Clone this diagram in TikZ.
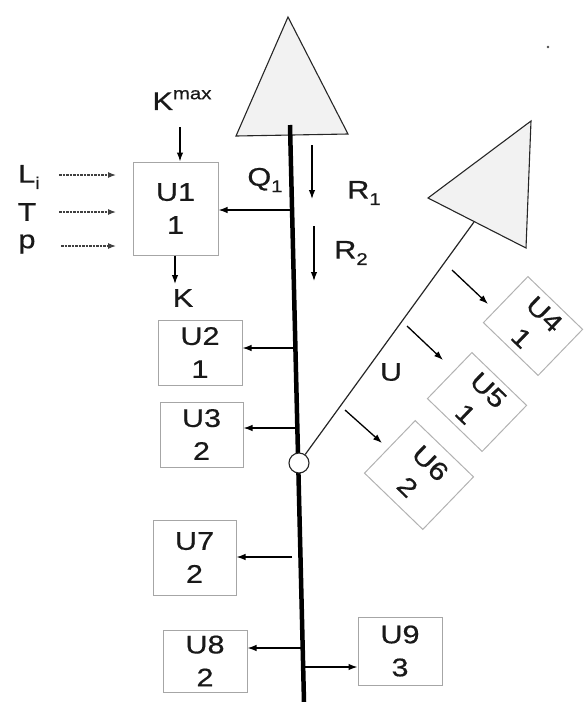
\documentclass[tikz,border=0pt]{standalone}
\usepackage{fontspec}
\setmainfont{Liberation Sans}[FakeStretch=1.2, FakeBold=0.6]
\usetikzlibrary{arrows.meta}
\begin{document}
\begin{tikzpicture}[x=1pt,y=-1pt,
  lbl/.style={font=\fontsize{25.5}{28}\selectfont, text=black!90, inner sep=0pt},
  box/.style={draw=gray!70, line width=1pt, align=center, inner sep=0pt,
    font=\fontsize{25.5}{33}\selectfont, text=black!90},
  rbox/.style={box, draw=gray!60},
  arr/.style={line width=1.3pt, -{Latex[length=9pt,width=6.5pt]}},
  darr/.style={line width=1.1pt, dash pattern=on 2.5pt off 1pt, black!75, -{Latex[length=8pt,width=6pt]}},
  tri/.style={draw=black!85, line width=1.1pt, fill=gray!10, line join=miter},
  mainline/.style={line width=4.5pt, black},
  thin/.style={line width=1.2pt, black!85}]
\useasboundingbox (0,0) rectangle (584,702);

% triangles
\draw[tri] (288,17) -- (236,136) -- (348,134) -- cycle;
\draw[tri] (428,198) -- (531,121) -- (526,248) -- cycle;

% main line
\coordinate (mtop) at (290,125);
\coordinate (mbot) at (304,702);
\draw[mainline] (mtop) -- (mbot);

% junction and branch U
\node[circle, draw=black!85, fill=white, line width=1.1pt, minimum size=20pt, inner sep=0pt] (junc) at (299,463) {};
\coordinate (utop) at (474,222);
\draw[thin] (junc) -- (utop);

% speck
\fill[black!70] (548,47) circle (1.4pt);

% boxes
\node[box, minimum width=85pt, minimum height=93pt] (u1) at (175.5,208.5) {U1\\1};
\node[box, minimum width=84pt, minimum height=65pt] (u2) at (200,352.5) {U2\\1};
\node[box, minimum width=83pt, minimum height=65pt] (u3) at (201.5,434.5) {U3\\2};
\node[box, minimum width=83pt, minimum height=75pt] (u7) at (194.5,557.5) {U7\\2};
\node[box, minimum width=84pt, minimum height=62pt] (u8) at (205,661) {U8\\2};
\node[box, minimum width=84pt, minimum height=68pt] (u9) at (400,651) {U9\\3};
\node[rbox, rotate=-44, minimum width=76pt, minimum height=64pt] (u4) at (533,326) {U4\\1};
\node[rbox, rotate=-44, minimum width=76pt, minimum height=64pt] (u5) at (477,402) {U5\\1};
\node[rbox, rotate=-44, minimum width=81pt, minimum height=73pt] (u6) at (419,475) {U6\\2};

% labels
\node[lbl] (kmax) at (182,100) {K\raisebox{0.42em}{\fontsize{17}{17}\selectfont max}};
\node[lbl] (li) at (29,177) {L\raisebox{-0.25em}{\fontsize{17}{17}\selectfont i}};
\node[lbl] (tl) at (27,212) {T};
\node[lbl] (pl) at (27,244) {p};
\node[lbl] (q1) at (265,180) {Q\raisebox{-0.25em}{\fontsize{17}{17}\selectfont 1}};
\node[lbl] (r1) at (364,193) {R\raisebox{-0.25em}{\fontsize{17}{17}\selectfont 1}};
\node[lbl] (r2) at (351,253) {R\raisebox{-0.25em}{\fontsize{17}{17}\selectfont 2}};
\node[lbl] (kl) at (183,298) {K};
\node[lbl] (ul) at (391,372) {U};

% Kmax arrow and K arrow
\coordinate (ka) at (180,127);
\draw[arr] (ka) -- (ka |- u1.north);
\coordinate (kb) at (175,284);
\draw[arr] (kb |- u1.south) -- (kb);

% dashed inputs
\coordinate (la) at (59,175); \coordinate (lb) at (116,175);
\coordinate (ta) at (59,212); \coordinate (tb) at (116,212);
\coordinate (pa) at (61,246); \coordinate (pb) at (116,246);
\draw[darr] (la) -- (lb);
\draw[darr] (ta) -- (tb);
\draw[darr] (pa) -- (pb);

% R arrows
\coordinate (r1a) at (312,145); \coordinate (r1b) at (312,199);
\coordinate (r2a) at (314,226); \coordinate (r2b) at (314,281);
\draw[arr] (r1a) -- (r1b);
\draw[arr] (r2a) -- (r2b);

% outlets from main line
\coordinate (m1) at (292,210);
\coordinate (m2) at (295.4,348);
\coordinate (m3) at (297.4,428);
\coordinate (m7) at (292,557);
\coordinate (m8) at (302.7,648);
\coordinate (m9) at (303.2,667);
\draw[arr] (m1) -- (m1 -| u1.east);
\draw[arr] (m2) -- (m2 -| u2.east);
\draw[arr] (m3) -- (m3 -| u3.east);
\draw[arr] (m7) -- (m7 -| u7.east);
\draw[arr] (m8) -- (m8 -| u8.east);
\draw[arr] (m9) -- (m9 -| u9.west);

% outlets from branch U
\coordinate (b4) at (452,270); \coordinate (e4) at (488,304);
\coordinate (b5) at (407,326); \coordinate (e5) at (443,360);
\coordinate (b6) at (345,410); \coordinate (e6) at (382,443);
\draw[arr] (b4) -- (e4);
\draw[arr] (b5) -- (e5);
\draw[arr] (b6) -- (e6);
\end{tikzpicture}
\end{document}
